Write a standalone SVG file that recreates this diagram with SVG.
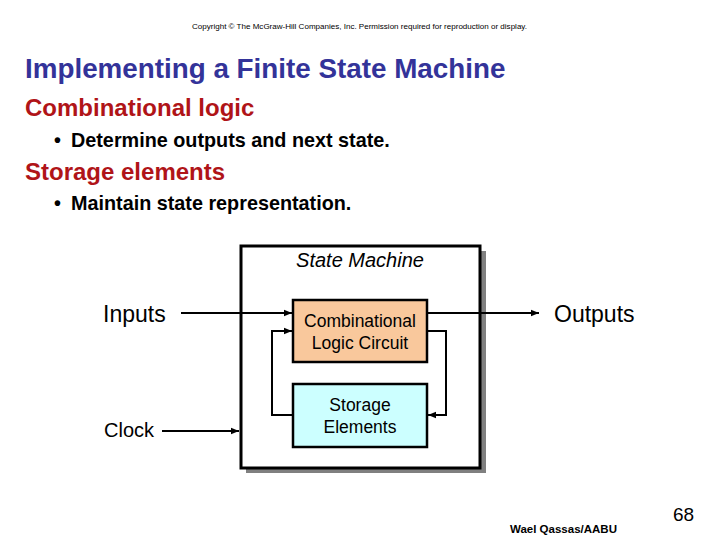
<svg xmlns="http://www.w3.org/2000/svg" width="720" height="540" viewBox="0 0 720 540">
<style>
text{font-family:"Liberation Sans",Arial,sans-serif}
.title{font-size:27.8px;font-weight:bold;fill:#333399}
.head{font-size:24px;font-weight:bold;fill:#B01418}
.bul{font-size:19.8px;font-weight:bold;fill:#000}
.lbl{font-size:23px;fill:#000}
.box{font-size:17.5px;fill:#000;text-anchor:middle}
.wire{fill:none;stroke:#000;stroke-width:2}
</style>
<defs>
<marker id="ah" viewBox="0 0 10 10" refX="10" refY="5" markerWidth="4" markerHeight="4" orient="auto" markerUnits="strokeWidth">
<path d="M0,1 L10,5 L0,9 z" fill="#000"/>
</marker>
</defs>
<rect width="720" height="540" fill="#fff"/>
<text x="192" y="29" font-size="7.5" textLength="335" lengthAdjust="spacingAndGlyphs">Copyright © The McGraw-Hill Companies, Inc. Permission required for reproduction or display.</text>
<text class="title" x="25" y="78">Implementing a Finite State Machine</text>
<text class="head" x="25" y="116">Combinational logic</text>
<text class="bul" x="54" y="147">•</text>
<text class="bul" x="71" y="147">Determine outputs and next state.</text>
<text class="head" x="25" y="180">Storage elements</text>
<text class="bul" x="54" y="210">•</text>
<text class="bul" x="71" y="210">Maintain state representation.</text>
<g id="state-machine">
<rect x="246" y="251" width="240" height="222" fill="#808080"/>
<rect x="241" y="246" width="239" height="222" fill="#fff" stroke="#000" stroke-width="3"/>
<text x="360" y="267" font-size="20" font-style="italic" text-anchor="middle">State Machine</text>
</g>
<g id="inputs"><text class="lbl" x="103" y="322">Inputs</text></g>
<g id="outputs"><text class="lbl" x="554" y="322">Outputs</text></g>
<g id="clock"><text x="104" y="437" font-size="20">Clock</text></g>
<g id="comb">
<rect x="293" y="300" width="134" height="62" fill="#F9C89C" stroke="#000" stroke-width="2.5"/>
<text class="box" x="360" y="327">Combinational</text>
<text class="box" x="360" y="349">Logic Circuit</text>
</g>
<g id="storage">
<rect x="293" y="384" width="134" height="63" fill="#CCFFFF" stroke="#000" stroke-width="2.5"/>
<text class="box" x="360" y="411">Storage</text>
<text class="box" x="360" y="433">Elements</text>
</g>
<g id="connectors">
<path class="wire" d="M181,313 H292" marker-end="url(#ah)"/>
<path class="wire" d="M428,313 H539" marker-end="url(#ah)"/>
<path class="wire" d="M162,431 H239" marker-end="url(#ah)"/>
<path class="wire" d="M292,415 H272 V331 H292" marker-end="url(#ah)"/>
<path class="wire" d="M428,331 H446 V415 H428" marker-end="url(#ah)"/>
</g>
<text x="510" y="533" font-size="11.5" font-weight="bold">Wael Qassas/AABU</text>
<text x="673" y="521" font-size="19">68</text>
</svg>
